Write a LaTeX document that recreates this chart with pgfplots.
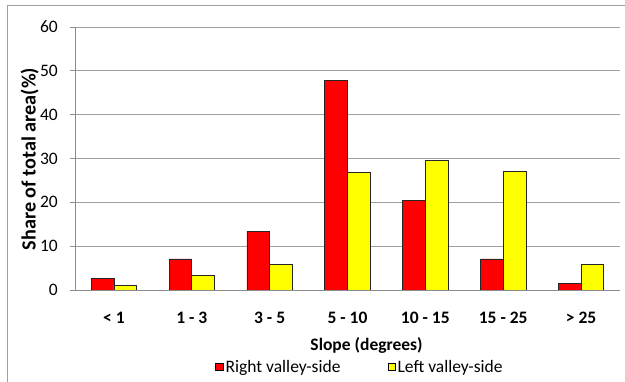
\documentclass[border=0pt]{standalone}
\usepackage{pgfplots}
\pgfplotsset{compat=1.18}
\usepackage{fontspec}
\setmainfont{Carlito}
\definecolor{gridgray}{RGB}{160,160,160}
\definecolor{axgray}{RGB}{140,140,140}
\definecolor{barred}{RGB}{255,0,0}
\definecolor{baryellow}{RGB}{255,255,0}
\begin{document}
\begin{tikzpicture}
\useasboundingbox (0pt,0pt) rectangle (625pt,-382pt);
\draw[gray!75, line width=1.3pt] (7.5pt,-382pt) -- (7.5pt,-5.5pt) -- (625pt,-5.5pt);
\begin{axis}[
  at={(75pt,-290pt)}, anchor=south west,
  width=545pt, height=263pt, scale only axis,
  ymin=0, ymax=60, ytick={0,10,...,60},
  xmin=-0.5, xmax=6.5,
  xtick={0,...,6},
  xticklabels={{< 1},{1 - 3},{3 - 5},{5 - 10},{10 - 15},{15 - 25},{> 25}},
  major x tick style={draw=none},
  ybar=0pt, bar width=22.7pt,
  axis lines*=left,
  axis line style={axgray, line width=0.8pt},
  ymajorgrids, grid style={gridgray, line width=0.8pt},
  tick align=outside, major tick length=5pt,
  ytick style={axgray, line width=0.8pt},
  /pgf/number format/assume math mode=true,
  font=\fontsize{17.5}{20}\selectfont,
  yticklabel style={anchor=east, inner sep=0pt, xshift=-12pt, font=\fontsize{17.5}{20}\selectfont},
  xticklabel style={anchor=center, inner sep=0pt, yshift=-23pt, font=\fontsize{17.5}{20}\selectfont\bfseries},
  xlabel={Slope (degrees)},
  xlabel style={at={(axis description cs:0.535,-0.21)}, anchor=center, inner sep=0pt, font=\fontsize{17.5}{20}\selectfont\bfseries},
  ylabel={Share of total area(\%)},
  ylabel style={at={(axis description cs:-0.083,0.498)}, anchor=center, inner sep=0pt, rotate=0, font=\fontsize{20.2}{22}\selectfont\bfseries},
  legend columns=2,
  legend style={at={(axis description cs:0.523,-0.293)}, anchor=center, draw=none, fill=none,
    font=\fontsize{17.5}{20}\selectfont, /tikz/every even column/.append style={column sep=45pt},
    inner sep=0pt, nodes={inner sep=2pt}},
  legend image code/.code={\draw[#1, draw=black, line width=0.6pt] (0pt,-3.6pt) rectangle (7.5pt,3.9pt);},
]
\addplot[fill=barred, draw=black!85, line width=0.7pt] coordinates {(0,2.7) (1,7.1) (2,13.4) (3,47.9) (4,20.4) (5,7.1) (6,1.5)};
\addplot[fill=baryellow, draw=black!85, line width=0.7pt] coordinates {(0,1.0) (1,3.4) (2,5.9) (3,26.9) (4,29.5) (5,27.0) (6,5.9)};
\legend{Right valley-side, Left valley-side}
\end{axis}
\end{tikzpicture}
\end{document}
